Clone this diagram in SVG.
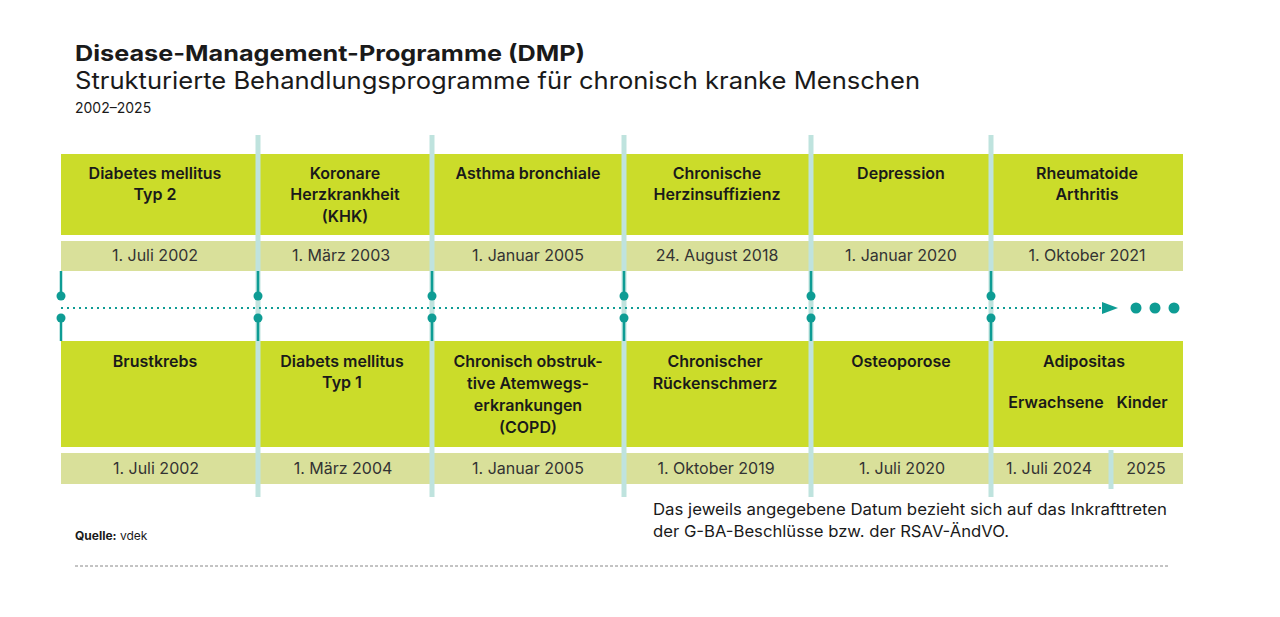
<svg xmlns="http://www.w3.org/2000/svg" width="1280" height="617" viewBox="0 0 1280 617">
<style>
text{font-family:"Inter","Liberation Sans",sans-serif;fill:#1a1a1a}
.h{font-size:16px;font-weight:600;text-anchor:middle}
.d{font-size:16px;text-anchor:middle;fill:#333}
.box{fill:#cbdc2a}
.band{fill:#d9e09a}
.v{stroke:#bfe3de;stroke-width:5}
.t{stroke:#0e9c94;stroke-width:2.5}
.dot{fill:#0e9c94}
</style>
<rect width="1280" height="617" fill="#fff"/>
<text x="75" y="61" font-size="22" font-weight="700" textLength="510" lengthAdjust="spacingAndGlyphs">Disease-Management-Programme (DMP)</text>
<text x="75" y="89" font-size="24" fill="#333" textLength="845" lengthAdjust="spacingAndGlyphs">Strukturierte Behandlungsprogramme für chronisch kranke Menschen</text>
<text x="75" y="113" font-size="14" fill="#333">2002–2025</text>
<g id="boxes">
<rect class="box" x="61" y="154" width="1122" height="81"/>
<rect class="band" x="61" y="241" width="1122" height="30"/>
<rect class="box" x="61" y="341" width="1122" height="106"/>
<rect class="band" x="61" y="453" width="1122" height="31"/>
</g>
<g id="dividers">
<line class="v" x1="258" y1="135" x2="258" y2="497"/>
<line class="v" x1="432" y1="135" x2="432" y2="497"/>
<line class="v" x1="624" y1="135" x2="624" y2="497"/>
<line class="v" x1="811" y1="135" x2="811" y2="497"/>
<line class="v" x1="991" y1="135" x2="991" y2="497"/>
<line class="v" x1="1111" y1="450" x2="1111" y2="489"/>
</g>
<g id="connectors">
<line x1="61" y1="308" x2="1106" y2="308" stroke="#0e9c94" stroke-width="2" stroke-dasharray="2 4"/>
<path class="dot" d="M1102 302 L1118 308 L1102 314 Z"/>
<circle class="dot" cx="1136" cy="308" r="5.5"/><circle class="dot" cx="1155" cy="308" r="5.5"/><circle class="dot" cx="1174" cy="308" r="5.5"/>
<g class="t">
<line x1="61" y1="271" x2="61" y2="296"/><line x1="61" y1="318" x2="61" y2="341"/>
<line x1="258" y1="271" x2="258" y2="296"/><line x1="258" y1="318" x2="258" y2="341"/>
<line x1="432" y1="271" x2="432" y2="296"/><line x1="432" y1="318" x2="432" y2="341"/>
<line x1="624" y1="271" x2="624" y2="296"/><line x1="624" y1="318" x2="624" y2="341"/>
<line x1="811" y1="271" x2="811" y2="296"/><line x1="811" y1="318" x2="811" y2="341"/>
<line x1="991" y1="271" x2="991" y2="296"/><line x1="991" y1="318" x2="991" y2="341"/>
</g>
<g class="dot">
<circle cx="61" cy="296" r="4.5"/><circle cx="61" cy="318" r="4.5"/>
<circle cx="258" cy="296" r="4.5"/><circle cx="258" cy="318" r="4.5"/>
<circle cx="432" cy="296" r="4.5"/><circle cx="432" cy="318" r="4.5"/>
<circle cx="624" cy="296" r="4.5"/><circle cx="624" cy="318" r="4.5"/>
<circle cx="811" cy="296" r="4.5"/><circle cx="811" cy="318" r="4.5"/>
<circle cx="991" cy="296" r="4.5"/><circle cx="991" cy="318" r="4.5"/>
</g>
</g>
<g id="top-labels">
<text class="h" x="155" y="179">Diabetes mellitus</text><text class="h" x="155" y="200">Typ 2</text>
<text class="h" x="345" y="179">Koronare</text><text class="h" x="345" y="200">Herzkrankheit</text><text class="h" x="345" y="222">(KHK)</text>
<text class="h" x="528" y="179">Asthma bronchiale</text>
<text class="h" x="717" y="179">Chronische</text><text class="h" x="717" y="200">Herzinsuffizienz</text>
<text class="h" x="901" y="179">Depression</text>
<text class="h" x="1087" y="179">Rheumatoide</text><text class="h" x="1087" y="200">Arthritis</text>
</g>
<g id="top-dates">
<text class="d" x="155" y="261">1. Juli 2002</text>
<text class="d" x="341" y="261">1. März 2003</text>
<text class="d" x="528" y="261">1. Januar 2005</text>
<text class="d" x="717" y="261">24. August 2018</text>
<text class="d" x="901" y="261">1. Januar 2020</text>
<text class="d" x="1087" y="261">1. Oktober 2021</text>
</g>
<g id="bottom-labels">
<text class="h" x="155" y="367">Brustkrebs</text>
<text class="h" x="342" y="367">Diabets mellitus</text><text class="h" x="342" y="388">Typ 1</text>
<text class="h" x="528" y="367">Chronisch obstruk-</text><text class="h" x="528" y="389">tive Atemwegs-</text><text class="h" x="528" y="411">erkrankungen</text><text class="h" x="528" y="433">(COPD)</text>
<text class="h" x="715" y="367">Chronischer</text><text class="h" x="715" y="389">Rückenschmerz</text>
<text class="h" x="901" y="367">Osteoporose</text>
<text class="h" x="1084" y="367">Adipositas</text>
<text class="h" x="1056" y="408">Erwachsene</text><text class="h" x="1142" y="408">Kinder</text>
</g>
<g id="bottom-dates">
<text class="d" x="156" y="474">1. Juli 2002</text>
<text class="d" x="343" y="474">1. März 2004</text>
<text class="d" x="528" y="474">1. Januar 2005</text>
<text class="d" x="716" y="474">1. Oktober 2019</text>
<text class="d" x="902" y="474">1. Juli 2020</text>
<text class="d" x="1049" y="474">1. Juli 2024</text>
<text class="d" x="1146" y="474">2025</text>
</g>
<text x="653" y="515" font-size="16" fill="#333" textLength="514" lengthAdjust="spacingAndGlyphs">Das jeweils angegebene Datum bezieht sich auf das Inkrafttreten</text>
<text x="653" y="537" font-size="16" fill="#333" textLength="356" lengthAdjust="spacingAndGlyphs">der G-BA-Beschlüsse bzw. der RSAV-ÄndVO.</text>
<text x="75" y="540" font-size="12"><tspan font-weight="700">Quelle:</tspan> vdek</text>
<line x1="75" y1="566" x2="1168" y2="566" stroke="#888" stroke-dasharray="3 2"/>
</svg>
